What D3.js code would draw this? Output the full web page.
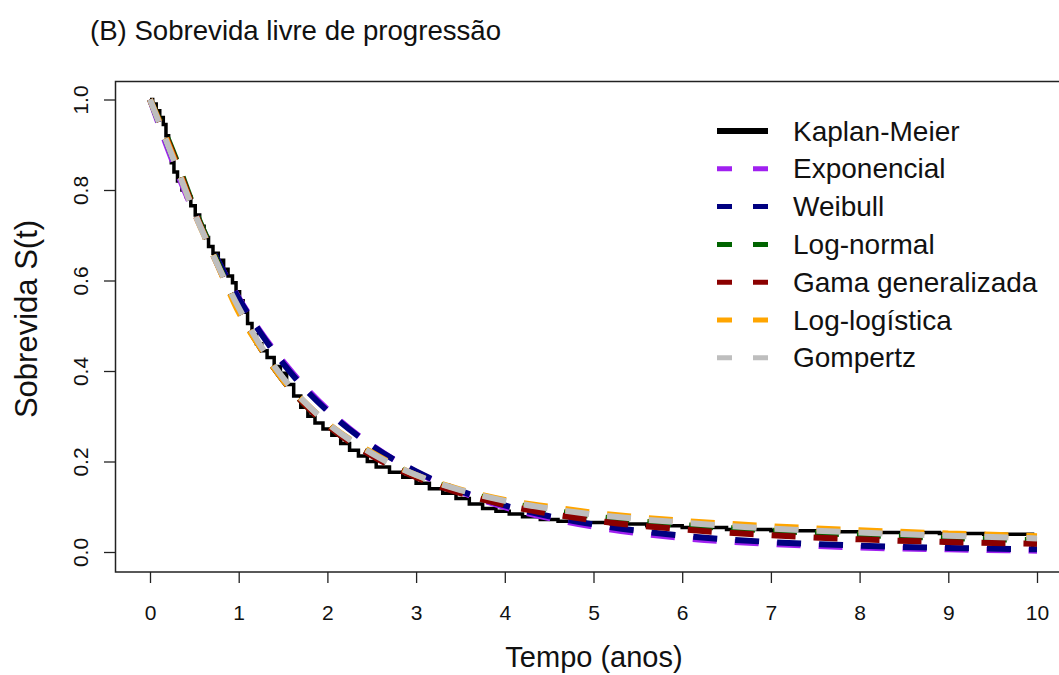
<!DOCTYPE html>
<html>
<head>
<meta charset="utf-8">
<script src="https://cdn.jsdelivr.net/npm/d3@7"></script>
<style>
body{margin:0;background:#fff;}
text{font-family:"Liberation Sans",Arial,sans-serif;fill:#111;}
</style>
</head>
<body>
<svg id="chart" width="1059" height="675"></svg>
<script>
// tempos (anos) para as curvas ajustadas
var tempos = [0,0.25,0.5,0.75,1,1.25,1.5,1.75,2,2.5,3,3.5,4,4.5,5,6,7,8,9,10];
var exponencial = [1,0.866,0.749,0.649,0.562,0.486,0.421,0.364,0.315,0.236,0.177,0.133,0.099,0.075,0.056,0.031,0.018,0.010,0.006,0.003];
var weibull     = [1,0.875,0.755,0.650,0.560,0.483,0.417,0.360,0.312,0.235,0.178,0.135,0.103,0.079,0.061,0.036,0.022,0.014,0.009,0.006];
var lognormal   = [1,0.890,0.760,0.645,0.535,0.450,0.380,0.325,0.280,0.215,0.168,0.135,0.110,0.093,0.079,0.060,0.047,0.038,0.031,0.026];
var gamagen     = [1,0.885,0.755,0.640,0.535,0.450,0.380,0.325,0.280,0.213,0.165,0.130,0.104,0.085,0.070,0.050,0.037,0.028,0.022,0.018];
var loglogist   = [1,0.880,0.750,0.640,0.530,0.450,0.380,0.330,0.285,0.220,0.170,0.138,0.115,0.100,0.087,0.069,0.057,0.048,0.041,0.035];
var gompertz    = [1,0.875,0.750,0.640,0.540,0.455,0.385,0.330,0.285,0.218,0.170,0.137,0.113,0.096,0.083,0.065,0.052,0.043,0.036,0.030];

// Kaplan-Meier (degraus)
var kmTempo = [0,0.03,0.07,0.11,0.15,0.18,0.21,0.24,0.27,0.31,0.36,0.41,0.46,0.51,0.56,0.61,0.66,0.71,0.77,0.83,0.88,0.93,0.97,1.01,1.05,1.1,1.15,1.2,1.26,1.32,1.4,1.47,1.54,1.62,1.7,1.78,1.86,1.95,2.05,2.15,2.25,2.35,2.45,2.55,2.7,2.85,3.0,3.15,3.3,3.45,3.6,3.75,3.9,4.05,4.2,4.4,4.6,4.9,5.2,5.6,6.0,6.5,7.0,7.6,8.2,8.9,9.4,9.95];
var kmSobrev = [1,0.99,0.975,0.96,0.945,0.92,0.895,0.86,0.84,0.82,0.8,0.785,0.765,0.745,0.72,0.695,0.675,0.66,0.645,0.625,0.61,0.595,0.575,0.555,0.53,0.505,0.48,0.46,0.445,0.43,0.41,0.395,0.37,0.345,0.32,0.3,0.285,0.272,0.258,0.24,0.225,0.212,0.2,0.188,0.176,0.165,0.152,0.14,0.13,0.118,0.106,0.096,0.09,0.084,0.078,0.072,0.068,0.065,0.062,0.058,0.054,0.05,0.047,0.045,0.043,0.041,0.039,0];

var nomes = ["Kaplan-Meier","Exponencial","Weibull","Log-normal","Gama generalizada","Log-logística","Gompertz"];
var cores = ["#000000","#A020F0","#000080","#006400","#8B0000","#FFA500","#BEBEBE"];
var xTicks = [0,1,2,3,4,5,6,7,8,9,10];
var yTicks = [0,0.2,0.4,0.6,0.8,1.0];

var svg = d3.select("#chart");
var x = d3.scaleLinear().domain([0,10]).range([150,1037]);
var y = d3.scaleLinear().domain([0,1]).range([552,99.5]);

// caixa do grafico
svg.append("rect")
  .attr("x",115.5).attr("y",81.5).attr("width",1000).attr("height",490.5)
  .attr("fill","none").attr("stroke","#222").attr("stroke-width",1.5);

// eixo x
var gx = svg.append("g").attr("transform","translate(0,572)")
  .call(d3.axisBottom(x).tickValues(xTicks).tickFormat(d3.format("d")).tickSize(11).tickPadding(22));
gx.attr("font-size",null).attr("font-family",null);
gx.select(".domain").remove();
gx.selectAll("line").attr("stroke","#222").attr("stroke-width",1.3);
gx.selectAll("text").style("font-size","21px").attr("fill","#111");

// eixo y
var gy = svg.append("g").attr("transform","translate(115,0)")
  .call(d3.axisLeft(y).tickValues(yTicks).tickFormat(d3.format(".1f")).tickSize(11));
gy.attr("font-size",null).attr("font-family",null);
gy.select(".domain").remove();
gy.selectAll("line").attr("stroke","#222").attr("stroke-width",1.3);
gy.selectAll("text")
  .attr("x",0).attr("dy",0)
  .attr("text-anchor","middle")
  .attr("transform","translate(-27,0) rotate(-90)")
  .style("font-size","21px").attr("fill","#111");

// curvas ajustadas
var modelos = [exponencial,weibull,lognormal,gamagen,loglogist,gompertz];
var linha = d3.line()
  .x(function(d,i){ return x(tempos[i]); })
  .y(function(d){ return y(d); })
  .curve(d3.curveMonotoneX);

// KM primeiro
var km = d3.line()
  .x(function(d,i){ return x(kmTempo[i]); })
  .y(function(d){ return y(d); })
  .curve(d3.curveStepAfter);
svg.append("path").attr("d",km(kmSobrev))
  .attr("fill","none").attr("stroke","#000").attr("stroke-width",3.5);

modelos.forEach(function(m,k){
  svg.append("path").attr("d",linha(m))
    .attr("fill","none").attr("stroke",cores[k+1])
    .attr("stroke-width",6).attr("stroke-dasharray","24,18");
});

// legenda
var leg = svg.append("g");
nomes.forEach(function(n,i){
  var yy = 131 + i*37.8;
  leg.append("line").attr("x1",717).attr("x2",768).attr("y1",yy).attr("y2",yy)
    .attr("stroke",cores[i]).attr("stroke-width",i==0?6:5)
    .attr("stroke-dasharray",i==0?null:"15,21");
  leg.append("text").attr("x",793).attr("y",yy+9.5).text(n)
    .style("font-size","28px");
});

// titulos
svg.append("text").attr("x",90).attr("y",40).text("(B)  Sobrevida livre de progressão")
  .style("font-size","27.6px");
svg.append("text").attr("x",594).attr("y",667).attr("text-anchor","middle")
  .text("Tempo (anos)").style("font-size","29px");
svg.append("text").attr("transform","translate(37,319) rotate(-90)").attr("text-anchor","middle")
  .text("Sobrevida S(t)").style("font-size","31px");
</script>
</body>
</html>
